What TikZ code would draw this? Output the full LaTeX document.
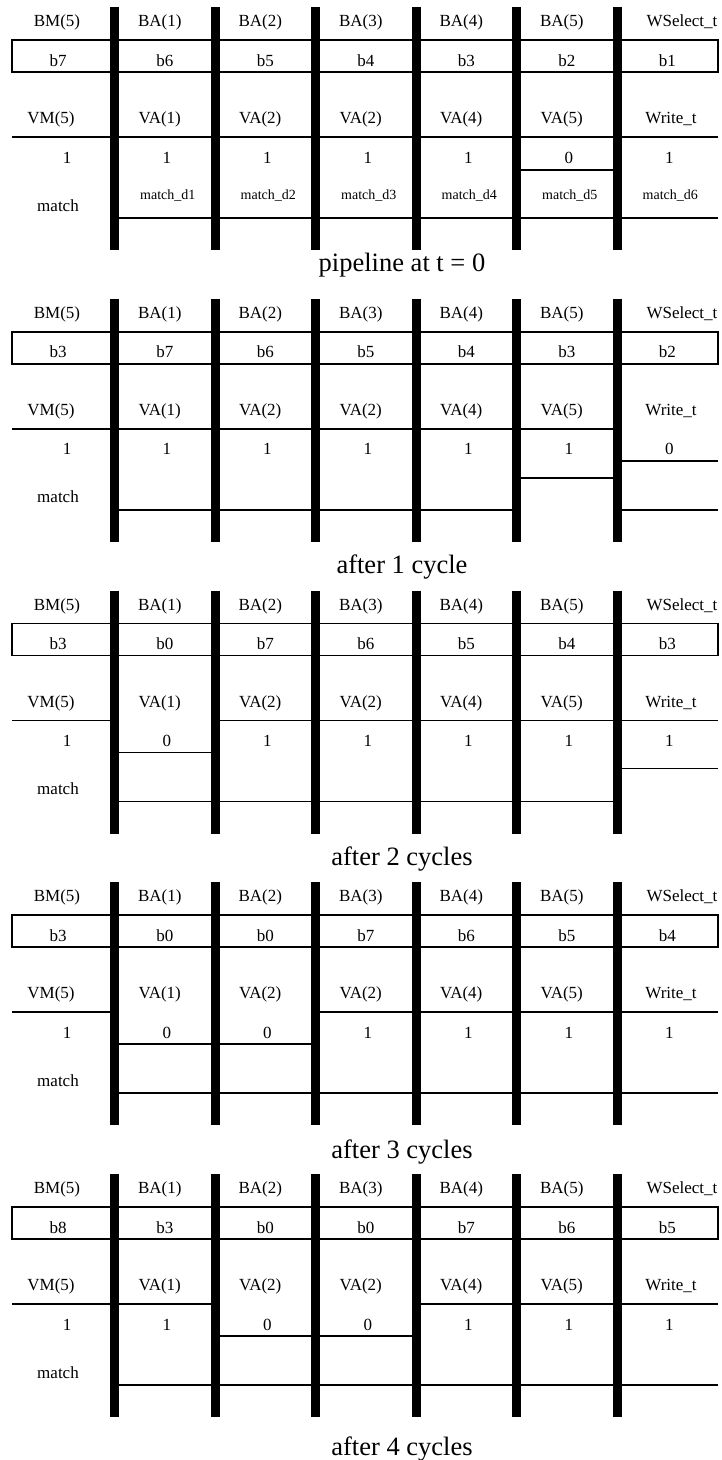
\documentclass[tikz,border=0pt]{standalone}
\usepackage{fontspec}
\setmainfont{Liberation Serif}
\usepackage{tikz}
\newcommand{\cellfont}{\fontsize{17}{17}\selectfont}
\newcommand{\tagfont}{\fontsize{14}{14}\selectfont}
\newcommand{\capfont}{\fontsize{26.5}{26.5}\selectfont}
\tikzset{
  lbl/.style={font=\cellfont,inner sep=0pt,anchor=base},
  tag/.style={font=\tagfont,inner sep=0pt,anchor=base},
  panelcap/.style={font=\capfont,inner sep=0pt,anchor=base},
  reg/.style={line width=9pt},
  wire/.style={line width=1.8pt},
}

\begin{document}
\begin{tikzpicture}[x=1pt,y=-1pt]
\useasboundingbox (0,0) rectangle (721,1460);
\foreach \k/\capy/\captxt/\bus/\val/\lines in {
0/264/{pipeline at t = 0}/{b7,b6,b5,b4,b3,b2,b1}/{1,1,1,1,1,0,1}/{1/0/1,1/0/1,1/0/1,1/0/1,1/163/1,1/0/1},
1/275/{after 1 cycle}/{b3,b7,b6,b5,b4,b3,b2}/{1,1,1,1,1,1,0}/{1/0/1,1/0/1,1/0/1,1/0/1,1/179/0,0/162/1},
2/275/{after 2 cycles}/{b3,b0,b7,b6,b5,b4,b3}/{1,0,1,1,1,1,1}/{0/162/1,1/0/1,1/0/1,1/0/1,1/0/1,1/178/0},
3/276/{after 3 cycles}/{b3,b0,b0,b7,b6,b5,b4}/{1,0,0,1,1,1,1}/{0/162/1,0/162/1,1/0/1,1/0/1,1/0/1,1/0/1},
4/281/{after 4 cycles}/{b8,b3,b0,b0,b7,b6,b5}/{1,1,0,0,1,1,1}/{1/0/1,0/162/1,0/162/1,1/0/1,1/0/1,1/0/1}}
{
\pgfmathsetmacro{\base}{7+291.75*\k}
\begin{scope}[shift={(0,\base)}]
\draw[wire] (12,33) rectangle (718,65);
\draw[wire] (12,130) -- (114,130);
\foreach \t/\m/\b [count=\c] in \lines {
  \pgfmathsetmacro{\xl}{14+100.5*\c}
  \pgfmathsetmacro{\xr}{min(14+100.5*(\c+1),718)}
  \ifnum\t=1 \draw[wire] (\xl,130) -- (\xr,130);\fi
  \ifnum\m>0 \draw[wire] (\xl,\m) -- (\xr,\m);\fi
  \ifnum\b=1 \draw[wire] (\xl,211) -- (\xr,211);\fi
}
\foreach \c in {1,...,6}
  \draw[reg] (14+100.5*\c,0) -- (14+100.5*\c,243);
\node[lbl] (bm\k) at (57,19.5) {BM(5)};
\foreach \c in {1,...,5}
  \node[lbl] (ba\k\c) at (59.25+100.5*\c,19.5) {BA(\c)};
\node[lbl] (ws\k) at (682,19.5) {WSelect\_t};
\node[lbl] (vm\k) at (51,116.5) {VM(5)};
\foreach \n [count=\c] in {1,2,2,4,5}
  \node[lbl] (va\k\c) at (59.25+100.5*\c,116.5) {VA(\n)};
\node[lbl] (wr\k) at (671,116.5) {Write\_t};
\foreach \x [count=\c from 0] in \bus {
  \pgfmathsetmacro{\cx}{\c==0 ? 58 : 64.25+100.5*\c}
  \node[lbl] (bus\k\c) at (\cx,59) {\x};
}
\foreach \x [count=\c from 0] in \val {
  \pgfmathsetmacro{\cx}{\c==0 ? 67 : 66.25+100.5*\c}
  \node[lbl] (bit\k\c) at (\cx,156) {\x};
}
\node[lbl] (match\k) at (58,204) {match};
\ifnum\k=0
  \foreach \c in {1,...,6}
    \node[tag] (md\c) at (67.25+100.5*\c,192) {match\_d\c};
\fi
\node[panelcap] (cap\k) at (402,\capy) {\captxt};
\end{scope}
}
\end{tikzpicture}
\end{document}
